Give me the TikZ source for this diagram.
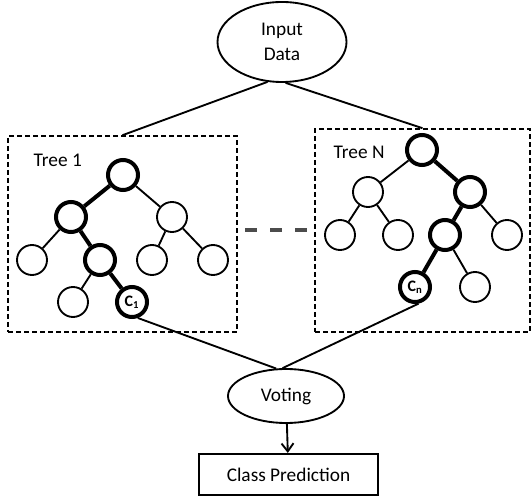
\documentclass[tikz,border=0pt]{standalone}
\usepackage{fontspec}
\setmainfont{Carlito}
\usetikzlibrary{arrows,arrows.meta,shapes}

\begin{document}
\begin{tikzpicture}[x=0.75pt,y=-0.75pt,
  font=\fontsize{14.5}{19}\selectfont,
  tnode/.style={circle,draw,line width=1.4pt,minimum size=22.5pt,inner sep=0pt,
    font=\fontsize{12}{12}\selectfont\bfseries},
  tbold/.style={tnode,line width=3pt},
  edge/.style={line width=1.4pt},
  bedge/.style={line width=3pt},
  treebox/.style={draw,line width=1.2pt,dash pattern=on 3.75pt off 2.25pt,inner sep=0pt},
  oval/.style={ellipse,draw,line width=1.4pt,inner sep=0pt,align=center}]
\useasboundingbox (0,0) rectangle (531,498);

%input, voting, output
\node[oval,minimum width=96.75pt,minimum height=60pt] (input) at (282,42) {Input\\Data};
\node[oval,minimum width=87pt,minimum height=40.5pt] (voting) at (286,396) {Voting};
\node[draw,line width=1.4pt,minimum width=134pt,minimum height=31pt] (pred) at (288.5,474.5) {Class Prediction};

%dashed boxes
\node[treebox,minimum width=171.75pt,minimum height=147pt] (box1) at (122.5,234) {};
\node[treebox,minimum width=161.25pt,minimum height=152.25pt] (boxN) at (422.5,230.5) {};
\node[anchor=west] (lab1) at (29,160) {Tree 1};
\node[anchor=west] (labN) at (329,152) {Tree N};

%tree 1
\node[tbold] (r1) at (123,175) {};
\node[tbold] (a1) at (71,217) {};
\node[tnode] (b1) at (172,217) {};
\node[tnode] (c1) at (32,260) {};
\node[tbold] (d1) at (100,260) {};
\node[tnode] (e1) at (152,260) {};
\node[tnode] (f1) at (213,260) {};
\node[tnode] (g1) at (73,302) {};
\node[tbold] (k1) at (132,302) {C\textsubscript{1}};
\draw[bedge] (r1) -- (a1);
\draw[edge] (r1) -- (b1);
\draw[edge] (a1) -- (c1);
\draw[bedge] (a1) -- (d1);
\draw[edge] (b1) -- (e1);
\draw[edge] (b1) -- (f1);
\draw[edge] (d1) -- (g1);
\draw[bedge] (d1) -- (k1);

%tree N
\node[tbold] (rN) at (422,150) {};
\node[tnode] (aN) at (368,192) {};
\node[tbold] (bN) at (470,192) {};
\node[tnode] (cN) at (340,235) {};
\node[tnode] (dN) at (398,235) {};
\node[tbold] (eN) at (445,235) {};
\node[tnode] (fN) at (507,235) {};
\node[tbold] (kN) at (415,287) {C\textsubscript{n}};
\node[tnode] (hN) at (475,287) {};
\draw[edge] (rN) -- (aN);
\draw[bedge] (rN) -- (bN);
\draw[edge] (aN) -- (cN);
\draw[edge] (aN) -- (dN);
\draw[bedge] (bN) -- (eN);
\draw[edge] (bN) -- (fN);
\draw[bedge] (eN) -- (kN);
\draw[edge] (eN) -- (hN);

%dots between the trees
\draw[line width=3pt,black!70,dash pattern=on 9pt off 9.75pt] (245,230) -- (308,230);

%connectors
\draw[edge] (input.250) -- (box1.north);
\draw[edge] (input.275) -- (boxN.north);
\draw[edge] (k1.-70) -- (voting.110);
\draw[edge] (kN.-78) -- (voting.97);
\draw[edge,-{Straight Barb[length=6pt,width=9pt]}] (voting) -- (pred);
\end{tikzpicture}
\end{document}
